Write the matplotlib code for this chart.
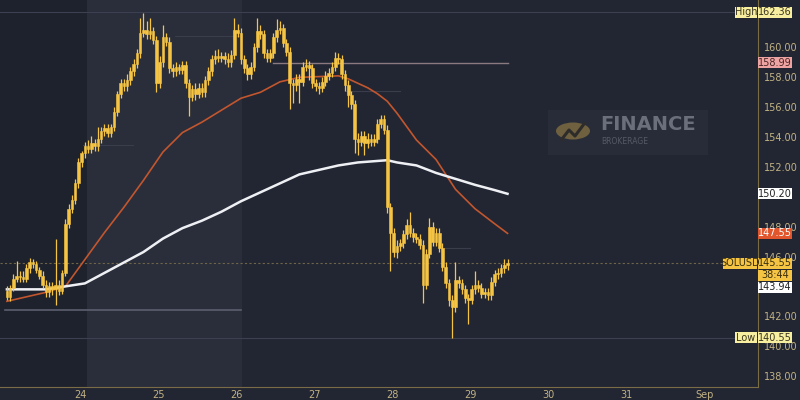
import matplotlib
matplotlib.use("Agg")
import matplotlib.pyplot as plt
import matplotlib.transforms as mtransforms
from matplotlib.patches import Rectangle, Circle
import numpy as np

# hourly closes, SOLUSD, from 23 Aug ~01:30 to 29 Aug ~12:30
closes = [
    143.3, 143.9, 144.5, 144.7, 144.6, 144.5, 145.2, 145.6, 145.5, 145.1,
    144.7, 144.1, 143.6, 144.0, 143.8, 144.1, 143.7, 144.9, 148.2, 149.2,
    149.8, 150.9, 152.3, 152.9, 153.4, 153.2, 153.6, 153.4, 153.9, 154.4,
    154.6, 154.3, 154.7, 155.7, 156.9, 157.6, 157.4, 157.8, 158.4, 158.9,
    159.6, 161.0, 161.2, 160.9, 161.1, 160.5, 157.6, 159.0, 160.7, 160.4,
    158.6, 158.4, 158.7, 158.5, 158.8, 157.6, 156.7, 157.2, 156.9, 157.3,
    157.0, 157.8, 158.4, 159.2, 159.4, 159.3, 159.4, 159.2, 159.0, 159.5,
    161.2, 161.0, 159.2, 158.6, 158.2, 158.7, 160.0, 161.1, 160.9, 159.6,
    159.3, 159.6, 160.7, 161.2, 161.3, 160.3, 159.7, 157.6, 157.5, 157.9,
    157.7, 158.7, 158.8, 158.6, 157.6, 157.4, 157.3, 157.7, 158.1, 158.3,
    158.7, 159.3, 159.2, 158.2, 157.5, 156.8, 156.2, 153.9, 153.7, 154.1,
    153.6, 153.9, 153.7, 153.9, 154.9, 155.2, 154.5, 149.3, 147.6, 146.3,
    146.7, 146.9, 147.5, 148.1, 147.6, 147.3, 147.2, 146.8, 144.1, 146.2,
    148.0, 147.0, 147.6, 146.6, 145.3, 144.2, 143.1, 142.6, 144.4, 144.2,
    143.8, 143.2, 143.1, 143.8, 144.1, 143.9, 143.5, 143.6, 143.4, 144.3,
    144.8, 144.9, 145.2, 145.4, 145.55,
]
first_open = 143.7

upper_wick = [
    .3, .2, .3, 1.0, .3, .4, .3, .3, .2, .2,
    .2, .3, .3, .3, .3, 3.1, .3, .2, .3, .3,
    .3, .3, .3, .2, .3, .4, .5, .3, .8, .3,
    .3, .3, .2, .3, .2, .3, .3, .4, .3, .3,
    .3, 1.0, 1.1, .6, .9, .3, .3, .4, .8, .3,
    .3, .3, .3, .2, .3, .3, .3, .3, .4, .3,
    .3, .3, .3, .3, .4, .5, .3, .3, .4, .3,
    .8, .4, .3, .3, .3, .3, .3, .9, .4, .3,
    .3, .3, .3, .7, .5, .3, .3, .3, .3, .3,
    .3, .3, .4, .3, .3, .3, .3, .3, .3, .3,
    .3, .4, .3, .3, .3, .3, .3, .3, .4, .3,
    .3, .4, .3, .3, .3, .3, .3, .3, .3, .3,
    .4, .3, .3, .4, .9, .3, .3, .3, .3, .3,
    .6, .3, .3, .3, .3, .3, .3, .3, 1.2, .3,
    .3, .3, .3, .3, .9, .3, .3, .3, .3, .3,
    .3, .3, .3, .4, .3,
]
lower_wick = [
    .2, .3, .2, .2, .3, .2, .2, .3, .3, .2,
    .2, .2, .3, .3, .4, 1.05, .3, .2, .2, .3,
    .3, .3, .3, .3, .3, .3, .3, .3, .3, .3,
    .3, .3, .3, .3, .3, .3, .3, .3, .3, .3,
    .3, .3, .3, .3, .3, .3, .6, .3, .3, .3,
    .3, .4, .3, .3, .3, .3, 1.3, .3, .4, .3,
    .3, .3, .3, .3, .3, .3, .3, .3, .3, .3,
    .3, .3, .3, .3, .4, .3, .3, .3, .3, .3,
    .3, .3, .3, .3, .3, .3, .3, 1.7, 1.2, .4,
    1.4, .3, .3, .8, .3, .3, .4, .3, .3, .3,
    .3, .3, .3, .3, .4, .8, .3, 1.0, .9, .3,
    .8, .3, .3, .3, .3, .3, .3, .4, 2.6, .3,
    .4, .3, .3, .3, .3, .3, .3, .3, 1.2, .3,
    .3, .3, .3, .3, .3, .3, .4, 2.05, .3, .3,
    .3, .3, 1.6, .3, .3, .3, .3, .3, .3, .3,
    .3, .3, .3, .3, .3,
]

# moving averages at these candles
ma_index = [0, 6, 12, 18, 24, 30, 36, 42, 48, 54, 60, 66, 72, 78, 84, 90,
            96, 102, 105, 108, 111, 114, 117, 120, 123, 126, 132, 138, 144, 150, 154]
ma_slow = [143.8, 143.8, 143.8, 144.0, 144.2, 144.9, 145.6, 146.3, 147.2, 147.9,
           148.4, 149.0, 149.7, 150.3, 150.9, 151.5, 151.8, 152.1, 152.2, 152.3,
           152.35, 152.4, 152.45, 152.3, 152.2, 152.1, 151.6, 151.2, 150.8, 150.45, 150.2]
ma_fast = [143.0, 143.3, 143.6, 144.0, 145.8, 147.6, 149.3, 151.1, 153.0, 154.3,
           155.0, 155.8, 156.6, 157.0, 157.7, 158.0, 158.05, 158.1, 157.9, 157.6,
           157.3, 156.9, 156.4, 155.6, 154.7, 153.8, 152.5, 150.5, 149.2, 148.2, 147.55]

day_ticks = [24, 25, 26, 27, 28, 29, 30, 31, 32]
day_labels = ["24", "25", "26", "27", "28", "29", "30", "31", "Sep"]
price_ticks = [138, 140, 142, 146, 148, 152, 154, 156, 158, 160]

BG = "#222633"
BAND = "#2a2e3b"
LEFT = "#1e222d"
GOLD = "#f6c443"
TXT = "#c2b384"
AXLINE = "#7a6c44"

ymin, ymax = 137.26, 163.18
xmin, xmax = 22.974, 32.69


def t_of(i):
    return 23 + (i + 1.5) / 24.0


fig = plt.figure(figsize=(8, 4), dpi=100, facecolor=BG)
ax = fig.add_axes([0, 13 / 400, 758 / 800, 387 / 400])
ax.set_facecolor(BG)
ax.set_xlim(xmin, xmax)
ax.set_ylim(ymin, ymax)

# session shading
ax.axvspan(xmin, 24.09, color=LEFT, zorder=0, lw=0)
ax.axvspan(24.09, 26.08, color=BAND, zorder=0, lw=0)

# horizontal level lines
ax.axhline(162.36, color="#3c4050", lw=0.8, zorder=1)
ax.axhline(140.55, color="#3c4050", lw=0.8, zorder=1)
ax.axhline(145.55, color="#6e6448", lw=0.8, ls=(0, (2, 2)), zorder=1)
ax.plot([t_of(82), t_of(154)], [158.99, 158.99], color="#8a7a80", lw=1.0, zorder=1)
ax.plot([xmin + 0.06, 26.06], [142.42, 142.42], color="#5c5f6e", lw=1.2, zorder=1)
ax.plot([25.22, 26.06], [160.75, 160.75], color="#3a3e4c", lw=0.8, zorder=1)
ax.plot([27.4, 28.1], [157.1, 157.1], color="#3a3e4c", lw=0.8, zorder=1)
ax.plot([24.04, 24.68], [153.5, 153.5], color="#3a3e4c", lw=0.8, zorder=1)
ax.plot([28.6, 29.0], [146.6, 146.6], color="#3a3e4c", lw=0.8, zorder=1)

# candles
n = len(closes)
opens = [first_open] + closes[:-1]
t = np.array([t_of(i) for i in range(n)])
o = np.array(opens)
c = np.array(closes)
top = np.maximum(o, c)
bot = np.minimum(o, c)
highs = top + np.array(upper_wick)
lows = bot - np.array(lower_wick)
ax.vlines(t, lows, highs, color=GOLD, lw=0.9, zorder=3)
height = np.maximum(top - bot, 0.08)
ax.bar(t, height, bottom=bot, width=0.8 / 24, color=GOLD, edgecolor=GOLD,
       lw=0.4, zorder=4)

# moving averages
ma_t = [t_of(i) for i in ma_index]
ax.plot(ma_t, ma_fast, color="#c2562e", lw=1.2, zorder=2)
ax.plot(ma_t, ma_slow, color="#eef0f4", lw=1.8, zorder=2)

# axes style
for s in ["top", "left"]:
    ax.spines[s].set_visible(False)
ax.spines["bottom"].set_color(AXLINE)
ax.spines["right"].set_color(AXLINE)
ax.yaxis.tick_right()
ax.set_yticks(price_ticks)
ax.set_yticklabels([f"{p:.2f}" for p in price_ticks])
ax.set_xticks(day_ticks)
ax.set_xticklabels(day_labels)
ax.tick_params(axis="y", length=0, pad=4, labelsize=7, labelcolor=TXT)
ax.tick_params(axis="x", length=0, pad=2, labelsize=7, labelcolor=TXT)

# price badges on the right scale
tr = mtransforms.blended_transform_factory(ax.transAxes, ax.transData)
px = 1 / 758.0
bh = 11 / 14.93


def badge(price, text, fc, tc, x0=758, x1=792):
    ax.add_patch(Rectangle((x0 * px, price - bh / 2), (x1 - x0) * px, bh,
                           transform=tr, facecolor=fc, edgecolor="none",
                           clip_on=False, zorder=6))
    ax.text((x0 + x1) / 2 * px, price, text, transform=tr, ha="center",
            va="center", fontsize=7, color=tc, clip_on=False, zorder=7)


badge(162.36, "High", "#f7eea0", "#3a3520", 735, 757)
badge(162.36, "162.36", "#f7eea0", "#3a3520")
badge(158.99, "158.99", "#eea3a3", "#4a2525")
badge(150.20, "150.20", "#ffffff", "#222222")
badge(147.55, "147.55", "#e2562d", "#ffffff")
badge(145.55, "SOLUSD", "#f6c443", "#3a3010", 723, 757)
badge(145.55, "145.55", "#f6c443", "#3a3010")
badge(144.75, "38:44", "#f6c443", "#3a3010")
badge(143.94, "143.94", "#ffffff", "#222222")
badge(140.55, "Low", "#f7eea0", "#3a3520", 735, 757)
badge(140.55, "140.55", "#f7eea0", "#3a3520")

# watermark
fx = lambda v: v / 800.0
fy = lambda v: 1 - v / 400.0
fig.add_artist(Rectangle((fx(548), fy(155)), fx(160), 45 / 400.0,
                         transform=fig.transFigure, facecolor="#282c38",
                         edgecolor="none", zorder=5))
fig.add_artist(Circle((fx(573), fy(131)), 17 / 800.0, transform=fig.transFigure,
                      facecolor="#6f613f", edgecolor="none", zorder=6))
fig.add_artist(plt.Line2D([fx(562), fx(569), fx(575), fx(584)],
                          [fy(139), fy(130), fy(136), fy(124)],
                          transform=fig.transFigure, color="#2e2c2a", lw=2.2,
                          zorder=7))
fig.text(fx(600), fy(125), "FINANCE", fontsize=14, fontweight="bold",
         color="#6b6f7b", va="center", ha="left", zorder=7)
fig.text(fx(601), fy(142), "BROKERAGE", fontsize=5.5, color="#565a66",
         va="center", ha="left", zorder=7)

fig.savefig("out.png", dpi=100, facecolor=BG)
